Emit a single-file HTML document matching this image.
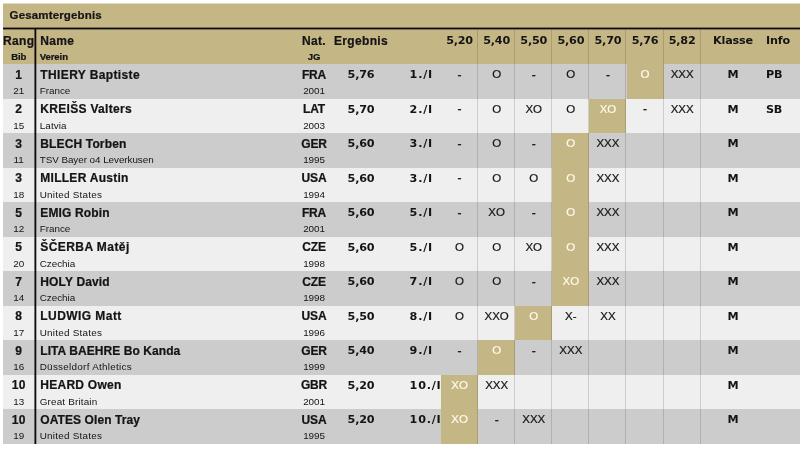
<!DOCTYPE html>
<html lang="de">
<head>
<meta charset="utf-8">
<title>Gesamtergebnis</title>
<style>
html,body{margin:0;padding:0;background:#fff;}
body{width:800px;height:449px;overflow:hidden;position:relative;
 font-family:"Liberation Sans",sans-serif;color:#141414;}
.sheet{position:absolute;left:3px;top:3.5px;width:797px;height:440px;}
.title{position:absolute;left:0;top:-.5px;width:797px;height:25.5px;background:linear-gradient(to bottom,rgba(197,182,134,.5) 0,rgba(197,182,134,.5) 1px,#c5b686 1px,#c5b686 100%);}
.title span{position:absolute;left:6.6px;top:6.5px;font-size:11.5px;font-weight:bold;line-height:1;letter-spacing:.15px;white-space:nowrap;}
.rule{position:absolute;left:0;top:23.5px;width:797px;height:3px;background:linear-gradient(to bottom,rgba(12,12,12,.4) 0,rgba(12,12,12,.4) 1px,#0c0c0c 1px,#0c0c0c 2px,rgba(12,12,12,.4) 2px,rgba(12,12,12,.4) 3px);z-index:3;}
.hdr{position:absolute;left:0;top:24px;width:797px;height:36.5px;background:#c5b686;}
.row{position:absolute;left:0;width:797px;height:34.5px;}
.row.odd{background:#cccccc;}
.row.even{background:#efefef;}
.c{position:absolute;top:0;height:100%;white-space:nowrap;}
.c .big{position:absolute;left:0;right:0;top:4.8px;font-size:12px;line-height:1;font-weight:bold;letter-spacing:.35px;}
.c .sm{position:absolute;left:0;right:0;top:22.1px;font-size:9.9px;line-height:1;letter-spacing:.1px;}
.hdr .c .big{top:7.2px;}
.hdr .c .sm{top:24.8px;font-size:9.6px;font-weight:bold;letter-spacing:-.1px;}
.rank{left:0;width:31.5px;text-align:center;}
.name{left:37.3px;width:250px;text-align:left;}
.nat{left:291px;width:40px;text-align:center;}
.erg{left:328px;width:60px;text-align:center;}
.pl{z-index:1;left:406.6px;width:32px;text-align:left;}
.h{width:37.1px;text-align:center;}
.h1{left:438.0px}.h2{left:475.1px}.h3{left:512.2px}.h4{left:549.3px}.h5{left:586.4px}.h6{left:623.5px}.h7{left:660.6px}
.kl{left:705px;width:50px;text-align:center;}
.info{left:763px;width:33px;text-align:left;}
.att{position:absolute;left:0;right:0;top:5.3px;font-size:11.5px;line-height:1;}
.hl{background:#c5b686;color:#fffbe9;}
.vl{position:absolute;top:26px;height:414px;width:0;border-left:1px solid rgba(30,30,30,.16);z-index:2;}
.v1{left:474px}.v2{left:511.1px}.v3{left:548.2px}.v4{left:585.3px}.v5{left:622.4px}.v6{left:659.5px}.v7{left:696.6px}
.vbar{position:absolute;left:31px;top:25px;width:3px;height:415.5px;background:linear-gradient(to right,rgba(12,12,12,.55) 0,rgba(12,12,12,.55) 1px,#0c0c0c 1px,#0c0c0c 2px,rgba(12,12,12,.3) 2px,rgba(12,12,12,.3) 3px);z-index:3;}
.r0{top:60.5px}.r1{top:95.0px}.r2{top:129.5px}.r3{top:164.0px}.r4{top:198.5px}.r5{top:233.0px}.r6{top:267.5px}.r7{top:302.0px}.r8{top:336.5px}.r9{top:371.0px}.r10{top:405.5px}
.h .big,.pl .big,.kl .big,.info .big,.row .erg .big{font-family:"DejaVu Sans","Liberation Sans",sans-serif;font-size:11.2px;letter-spacing:-.2px;top:5.4px;}
.hdr .h .big,.hdr .kl .big,.hdr .info .big{top:7.6px;}
.pl .big{letter-spacing:.75px;}
.att{-webkit-text-stroke:.2px currentColor;}
.att.dash{top:4.8px;font-size:12px;-webkit-text-stroke:.3px currentColor;}
.row .nat .big{letter-spacing:-.15px;}
.row .nat .sm{letter-spacing:-.1px;}
.title span,.name .big,.rank .big,.nat .big,.hdr .erg .big,.hdr .sm{-webkit-text-stroke:.22px currentColor;}
.name .sm{left:-.6px;}
</style>
</head>
<body>
<div class="sheet">
<div class="title"><span>Gesamtergebnis</span></div>
<div class="rule"></div>
<div class="hdr">
 <div class="c rank"><b class="big">Rang</b><b class="sm">Bib</b></div>
 <div class="c name"><b class="big">Name</b><b class="sm">Verein</b></div>
 <div class="c nat"><b class="big">Nat.</b><b class="sm">JG</b></div>
 <div class="c erg"><b class="big">Ergebnis</b></div>
 <div class="c h h1"><b class="big">5,20</b></div>
 <div class="c h h2"><b class="big">5,40</b></div>
 <div class="c h h3"><b class="big">5,50</b></div>
 <div class="c h h4"><b class="big">5,60</b></div>
 <div class="c h h5"><b class="big">5,70</b></div>
 <div class="c h h6"><b class="big">5,76</b></div>
 <div class="c h h7"><b class="big">5,82</b></div>
 <div class="c kl"><b class="big">Klasse</b></div>
 <div class="c info"><b class="big">Info</b></div>
</div>
<div class="row r0 odd">
 <div class="c rank"><b class="big">1</b><span class="sm">21</span></div>
 <div class="c name"><b class="big" style="letter-spacing:0.38px">THIERY Baptiste</b><span class="sm" style="letter-spacing:-0.03px">France</span></div>
 <div class="c nat"><b class="big">FRA</b><span class="sm">2001</span></div>
 <div class="c erg"><b class="big">5,76</b></div>
 <div class="c pl"><b class="big">1./I</b></div>
 <div class="c h h1"><span class="att dash">-</span></div>
 <div class="c h h2"><span class="att">O</span></div>
 <div class="c h h3"><span class="att dash">-</span></div>
 <div class="c h h4"><span class="att">O</span></div>
 <div class="c h h5"><span class="att dash">-</span></div>
 <div class="c h h6 hl"><span class="att">O</span></div>
 <div class="c h h7"><span class="att">XXX</span></div>
 <div class="c kl"><b class="big med">M</b></div>
 <div class="c info"><b class="big">PB</b></div>
</div>
<div class="row r1 even">
 <div class="c rank"><b class="big">2</b><span class="sm">15</span></div>
 <div class="c name"><b class="big" style="letter-spacing:0.3px">KREIŠS Valters</b><span class="sm" style="letter-spacing:0.1px">Latvia</span></div>
 <div class="c nat"><b class="big">LAT</b><span class="sm">2003</span></div>
 <div class="c erg"><b class="big">5,70</b></div>
 <div class="c pl"><b class="big">2./I</b></div>
 <div class="c h h1"><span class="att dash">-</span></div>
 <div class="c h h2"><span class="att">O</span></div>
 <div class="c h h3"><span class="att">XO</span></div>
 <div class="c h h4"><span class="att">O</span></div>
 <div class="c h h5 hl"><span class="att">XO</span></div>
 <div class="c h h6"><span class="att dash">-</span></div>
 <div class="c h h7"><span class="att">XXX</span></div>
 <div class="c kl"><b class="big med">M</b></div>
 <div class="c info"><b class="big">SB</b></div>
</div>
<div class="row r2 odd">
 <div class="c rank"><b class="big">3</b><span class="sm">11</span></div>
 <div class="c name"><b class="big" style="letter-spacing:0.14px">BLECH Torben</b><span class="sm" style="letter-spacing:-0.06px">TSV Bayer o4 Leverkusen</span></div>
 <div class="c nat"><b class="big">GER</b><span class="sm">1995</span></div>
 <div class="c erg"><b class="big">5,60</b></div>
 <div class="c pl"><b class="big">3./I</b></div>
 <div class="c h h1"><span class="att dash">-</span></div>
 <div class="c h h2"><span class="att">O</span></div>
 <div class="c h h3"><span class="att dash">-</span></div>
 <div class="c h h4 hl"><span class="att">O</span></div>
 <div class="c h h5"><span class="att">XXX</span></div>
 <div class="c h h6"></div>
 <div class="c h h7"></div>
 <div class="c kl"><b class="big med">M</b></div>
</div>
<div class="row r3 even">
 <div class="c rank"><b class="big">3</b><span class="sm">18</span></div>
 <div class="c name"><b class="big" style="letter-spacing:0.27px">MILLER Austin</b><span class="sm" style="letter-spacing:0.25px">United States</span></div>
 <div class="c nat"><b class="big">USA</b><span class="sm">1994</span></div>
 <div class="c erg"><b class="big">5,60</b></div>
 <div class="c pl"><b class="big">3./I</b></div>
 <div class="c h h1"><span class="att dash">-</span></div>
 <div class="c h h2"><span class="att">O</span></div>
 <div class="c h h3"><span class="att">O</span></div>
 <div class="c h h4 hl"><span class="att">O</span></div>
 <div class="c h h5"><span class="att">XXX</span></div>
 <div class="c h h6"></div>
 <div class="c h h7"></div>
 <div class="c kl"><b class="big med">M</b></div>
</div>
<div class="row r4 odd">
 <div class="c rank"><b class="big">5</b><span class="sm">12</span></div>
 <div class="c name"><b class="big" style="letter-spacing:0.15px">EMIG Robin</b><span class="sm" style="letter-spacing:-0.03px">France</span></div>
 <div class="c nat"><b class="big">FRA</b><span class="sm">2001</span></div>
 <div class="c erg"><b class="big">5,60</b></div>
 <div class="c pl"><b class="big">5./I</b></div>
 <div class="c h h1"><span class="att dash">-</span></div>
 <div class="c h h2"><span class="att">XO</span></div>
 <div class="c h h3"><span class="att dash">-</span></div>
 <div class="c h h4 hl"><span class="att">O</span></div>
 <div class="c h h5"><span class="att">XXX</span></div>
 <div class="c h h6"></div>
 <div class="c h h7"></div>
 <div class="c kl"><b class="big med">M</b></div>
</div>
<div class="row r5 even">
 <div class="c rank"><b class="big">5</b><span class="sm">20</span></div>
 <div class="c name"><b class="big" style="letter-spacing:0.43px">ŠČERBA Matěj</b><span class="sm" style="letter-spacing:-0.04px">Czechia</span></div>
 <div class="c nat"><b class="big">CZE</b><span class="sm">1998</span></div>
 <div class="c erg"><b class="big">5,60</b></div>
 <div class="c pl"><b class="big">5./I</b></div>
 <div class="c h h1"><span class="att">O</span></div>
 <div class="c h h2"><span class="att">O</span></div>
 <div class="c h h3"><span class="att">XO</span></div>
 <div class="c h h4 hl"><span class="att">O</span></div>
 <div class="c h h5"><span class="att">XXX</span></div>
 <div class="c h h6"></div>
 <div class="c h h7"></div>
 <div class="c kl"><b class="big med">M</b></div>
</div>
<div class="row r6 odd">
 <div class="c rank"><b class="big">7</b><span class="sm">14</span></div>
 <div class="c name"><b class="big" style="letter-spacing:0.15px">HOLY David</b><span class="sm" style="letter-spacing:-0.04px">Czechia</span></div>
 <div class="c nat"><b class="big">CZE</b><span class="sm">1998</span></div>
 <div class="c erg"><b class="big">5,60</b></div>
 <div class="c pl"><b class="big">7./I</b></div>
 <div class="c h h1"><span class="att">O</span></div>
 <div class="c h h2"><span class="att">O</span></div>
 <div class="c h h3"><span class="att dash">-</span></div>
 <div class="c h h4 hl"><span class="att">XO</span></div>
 <div class="c h h5"><span class="att">XXX</span></div>
 <div class="c h h6"></div>
 <div class="c h h7"></div>
 <div class="c kl"><b class="big med">M</b></div>
</div>
<div class="row r7 even">
 <div class="c rank"><b class="big">8</b><span class="sm">17</span></div>
 <div class="c name"><b class="big" style="letter-spacing:0.44px">LUDWIG Matt</b><span class="sm" style="letter-spacing:0.25px">United States</span></div>
 <div class="c nat"><b class="big">USA</b><span class="sm">1996</span></div>
 <div class="c erg"><b class="big">5,50</b></div>
 <div class="c pl"><b class="big">8./I</b></div>
 <div class="c h h1"><span class="att">O</span></div>
 <div class="c h h2"><span class="att">XXO</span></div>
 <div class="c h h3 hl"><span class="att">O</span></div>
 <div class="c h h4"><span class="att">X-</span></div>
 <div class="c h h5"><span class="att">XX</span></div>
 <div class="c h h6"></div>
 <div class="c h h7"></div>
 <div class="c kl"><b class="big med">M</b></div>
</div>
<div class="row r8 odd">
 <div class="c rank"><b class="big">9</b><span class="sm">16</span></div>
 <div class="c name"><b class="big" style="letter-spacing:0.07px">LITA BAEHRE Bo Kanda</b><span class="sm" style="letter-spacing:0.28px">Düsseldorf Athletics</span></div>
 <div class="c nat"><b class="big">GER</b><span class="sm">1999</span></div>
 <div class="c erg"><b class="big">5,40</b></div>
 <div class="c pl"><b class="big">9./I</b></div>
 <div class="c h h1"><span class="att dash">-</span></div>
 <div class="c h h2 hl"><span class="att">O</span></div>
 <div class="c h h3"><span class="att dash">-</span></div>
 <div class="c h h4"><span class="att">XXX</span></div>
 <div class="c h h5"></div>
 <div class="c h h6"></div>
 <div class="c h h7"></div>
 <div class="c kl"><b class="big med">M</b></div>
</div>
<div class="row r9 even">
 <div class="c rank"><b class="big">10</b><span class="sm">13</span></div>
 <div class="c name"><b class="big" style="letter-spacing:0.25px">HEARD Owen</b><span class="sm" style="letter-spacing:0.17px">Great Britain</span></div>
 <div class="c nat"><b class="big">GBR</b><span class="sm">2001</span></div>
 <div class="c erg"><b class="big">5,20</b></div>
 <div class="c pl"><b class="big">10./I</b></div>
 <div class="c h h1 hl"><span class="att">XO</span></div>
 <div class="c h h2"><span class="att">XXX</span></div>
 <div class="c h h3"></div>
 <div class="c h h4"></div>
 <div class="c h h5"></div>
 <div class="c h h6"></div>
 <div class="c h h7"></div>
 <div class="c kl"><b class="big med">M</b></div>
</div>
<div class="row r10 odd">
 <div class="c rank"><b class="big">10</b><span class="sm">19</span></div>
 <div class="c name"><b class="big" style="letter-spacing:0.08px">OATES Olen Tray</b><span class="sm" style="letter-spacing:0.24px">United States</span></div>
 <div class="c nat"><b class="big">USA</b><span class="sm">1995</span></div>
 <div class="c erg"><b class="big">5,20</b></div>
 <div class="c pl"><b class="big">10./I</b></div>
 <div class="c h h1 hl"><span class="att">XO</span></div>
 <div class="c h h2"><span class="att dash">-</span></div>
 <div class="c h h3"><span class="att">XXX</span></div>
 <div class="c h h4"></div>
 <div class="c h h5"></div>
 <div class="c h h6"></div>
 <div class="c h h7"></div>
 <div class="c kl"><b class="big med">M</b></div>
</div>
<div class="vl v1"></div>
<div class="vl v2"></div>
<div class="vl v3"></div>
<div class="vl v4"></div>
<div class="vl v5"></div>
<div class="vl v6"></div>
<div class="vl v7"></div>
<div class="vbar"></div>
</div>
</body>
</html>
